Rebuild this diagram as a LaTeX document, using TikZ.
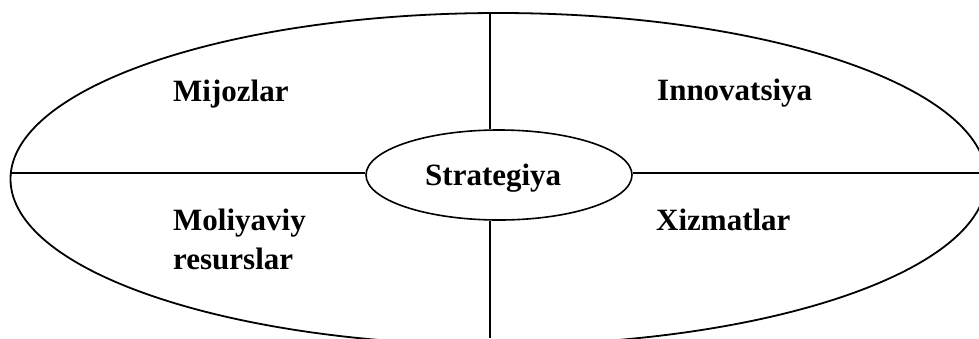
\documentclass[tikz,border=0pt]{standalone}
\usepackage{fontspec}
\setmainfont{Liberation Serif}
\usetikzlibrary{shapes.geometric}
\tikzset{
  label text/.style={font=\fontsize{31}{38.6}\selectfont\bfseries, inner sep=0pt, anchor=base west, align=left},
  divider/.style={line width=1.5pt},
  hubshape/.style={ellipse, draw, line width=1.6pt, minimum width=266pt, minimum height=90pt, inner sep=0pt, font=\fontsize{31}{38.6}\selectfont\bfseries}
}
\begin{document}
\begin{tikzpicture}[x=1pt, y=-1pt]
  \useasboundingbox (0,0) rectangle (979,338);
  \clip (0,0) rectangle (979,338);

  % outer ellipse, partly outside the frame
  \draw[line width=1.8pt] (498.5,179) ellipse [x radius=488, y radius=166];

  % central hub
  \node[hubshape] (hub) at (499,175) {};
  \node[label text] (strat) at (425,185) {Strategiya};

  % free ends of the dividers
  \coordinate (topend) at (490,13);
  \coordinate (botend) at (490,338);
  \coordinate (leftend) at (10.5,173);
  \coordinate (rightend) at (979,173);

  \draw[divider] (topend) -- (topend |- hub.north);
  \draw[divider] (botend) -- (botend |- hub.south);
  \draw[divider] (leftend) -- (leftend -| hub.west);
  \draw[divider] (rightend) -- (rightend -| hub.east);

  % quadrant labels (multi-line nodes sit on their last baseline)
  \node[label text] (q1) at (173,101.5) {Mijozlar};
  \node[label text] (q2) at (657,100.7) {Innovatsiya};
  \node[label text] (q3) at (173,269.3) {Moliyaviy\\resurslar};
  \node[label text] (q4) at (656,230) {Xizmatlar};
\end{tikzpicture}
\end{document}
